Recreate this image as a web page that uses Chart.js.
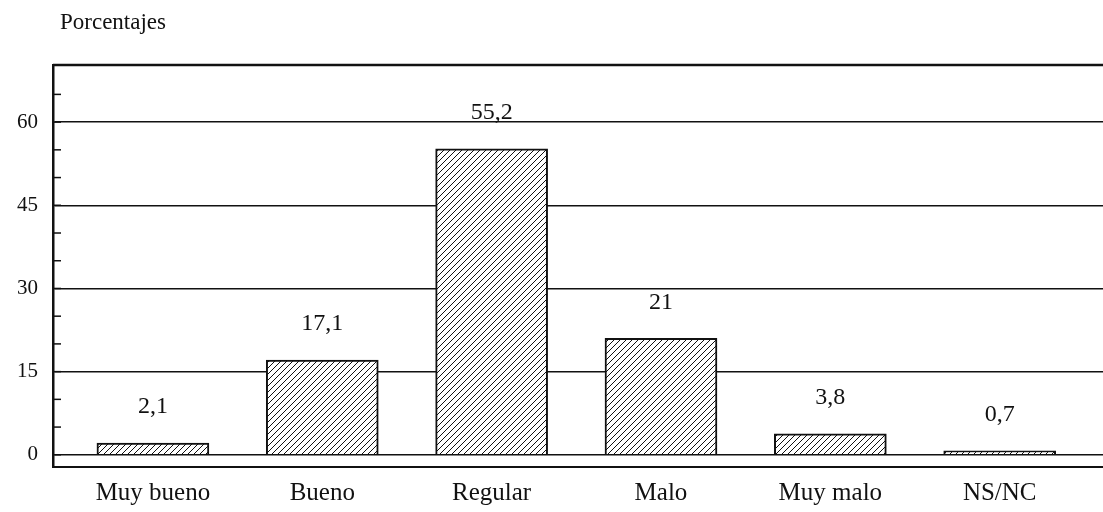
<!DOCTYPE html>
<html>
<head>
<meta charset="utf-8">
<script src="https://cdn.jsdelivr.net/npm/chart.js@4"></script>
<style>
  html, body { margin:0; padding:0; background:#fff; overflow:hidden; }
  #wrap { width:1103px; height:512px; position:relative; }
</style>
</head>
<body>
<div id="wrap"><canvas id="chart"></canvas></div>
<script>
// Valoración (porcentajes)
const categorias = ['Muy bueno', 'Bueno', 'Regular', 'Malo', 'Muy malo', 'NS/NC'];
const valores = [2.1, 17.1, 55.2, 21, 3.8, 0.7];
const etiquetas = ['2,1', '17,1', '55,2', '21', '3,8', '0,7'];
const ticksY = [0, 5, 10, 15, 20, 25, 30, 35, 40, 45, 50, 55, 60, 65];
const ticksConTexto = [0, 15, 30, 45, 60];

const FUENTE = '"Liberation Serif", "DejaVu Serif", serif';

// trama de rayas diagonales (fondo blanco) para las barras
function trama() {
  const c = document.createElement('canvas');
  c.width = 6; c.height = 6;
  const g = c.getContext('2d');
  g.fillStyle = '#fff'; g.fillRect(0, 0, 6, 6);
  g.strokeStyle = '#111'; g.lineWidth = 1;
  g.beginPath();
  g.moveTo(0, 6); g.lineTo(6, 0);
  g.moveTo(-3, 3); g.lineTo(3, -3);
  g.moveTo(3, 9); g.lineTo(9, 3);
  g.stroke();
  return g.createPattern(c, 'repeat');
}

// marco, rayitas del eje y valores sobre las barras
const extras = {
  id: 'extras',
  afterDatasetsDraw(chart) {
    const { ctx, chartArea: a, scales: { y } } = chart;
    ctx.save();
    ctx.strokeStyle = '#111';
    ctx.lineWidth = 2.5;
    ctx.beginPath();
    ctx.moveTo(a.left, a.top); ctx.lineTo(a.right, a.top);
    ctx.stroke();
    ctx.lineWidth = 1.5;
    ticksY.forEach(v => {
      const py = y.getPixelForValue(v);
      ctx.beginPath(); ctx.moveTo(a.left, py); ctx.lineTo(a.left + 8, py); ctx.stroke();
    });
    ctx.fillStyle = '#111';
    ctx.font = '24px ' + FUENTE;
    ctx.textAlign = 'center';
    ctx.textBaseline = 'middle';
    const meta = chart.getDatasetMeta(0);
    meta.data.forEach((bar, i) => {
      ctx.fillText(etiquetas[i], bar.x, bar.y - 36);
    });
    ctx.textAlign = 'left';
    ctx.font = '23px ' + FUENTE;
    ctx.fillText('Porcentajes', 60, 23);
    ctx.restore();
  }
};

new Chart(document.getElementById('chart'), {
  type: 'bar',
  data: {
    datasets: [{
      data: valores.map((v, i) => ({ x: i, y: v })),
      backgroundColor: trama(),
      borderColor: '#111',
      borderWidth: 2,
      barThickness: 112
    }]
  },
  options: {
    responsive: true,
    maintainAspectRatio: false,
    animation: false,
    layout: { padding: { top: 65, right: 0, left: 0, bottom: 0 } },
    plugins: { legend: { display: false }, tooltip: { enabled: false } },
    scales: {
      x: {
        type: 'linear',
        offset: false,
        min: -0.59, max: 5.61,
        afterBuildTicks: s => { s.ticks = categorias.map((c, i) => ({ value: i })); },
        afterFit: s => { s.height = 45; },
        grid: { display: false, drawTicks: false },
        border: { display: true, color: '#111', width: 2 },
        ticks: {
          padding: 11,
          color: '#111',
          font: { family: FUENTE, size: 25 },
          callback: v => categorias[v]
        }
      },
      y: {
        min: -2.2, max: 70.3,
        afterBuildTicks: s => { s.ticks = ticksY.map(v => ({ value: v })); },
        afterFit: s => { s.width = 53; },
        grid: {
          drawTicks: false,
          lineWidth: 1.5,
          color: c => ticksConTexto.includes(c.tick.value) ? '#111' : 'rgba(0,0,0,0)'
        },
        border: { display: true, color: '#111', width: 2.5 },
        ticks: {
          padding: 15,
          color: '#111',
          font: { family: FUENTE, size: 21 },
          callback: v => ticksConTexto.includes(v) ? String(v) : ''
        }
      }
    }
  },
  plugins: [extras]
});
</script>
</body>
</html>
